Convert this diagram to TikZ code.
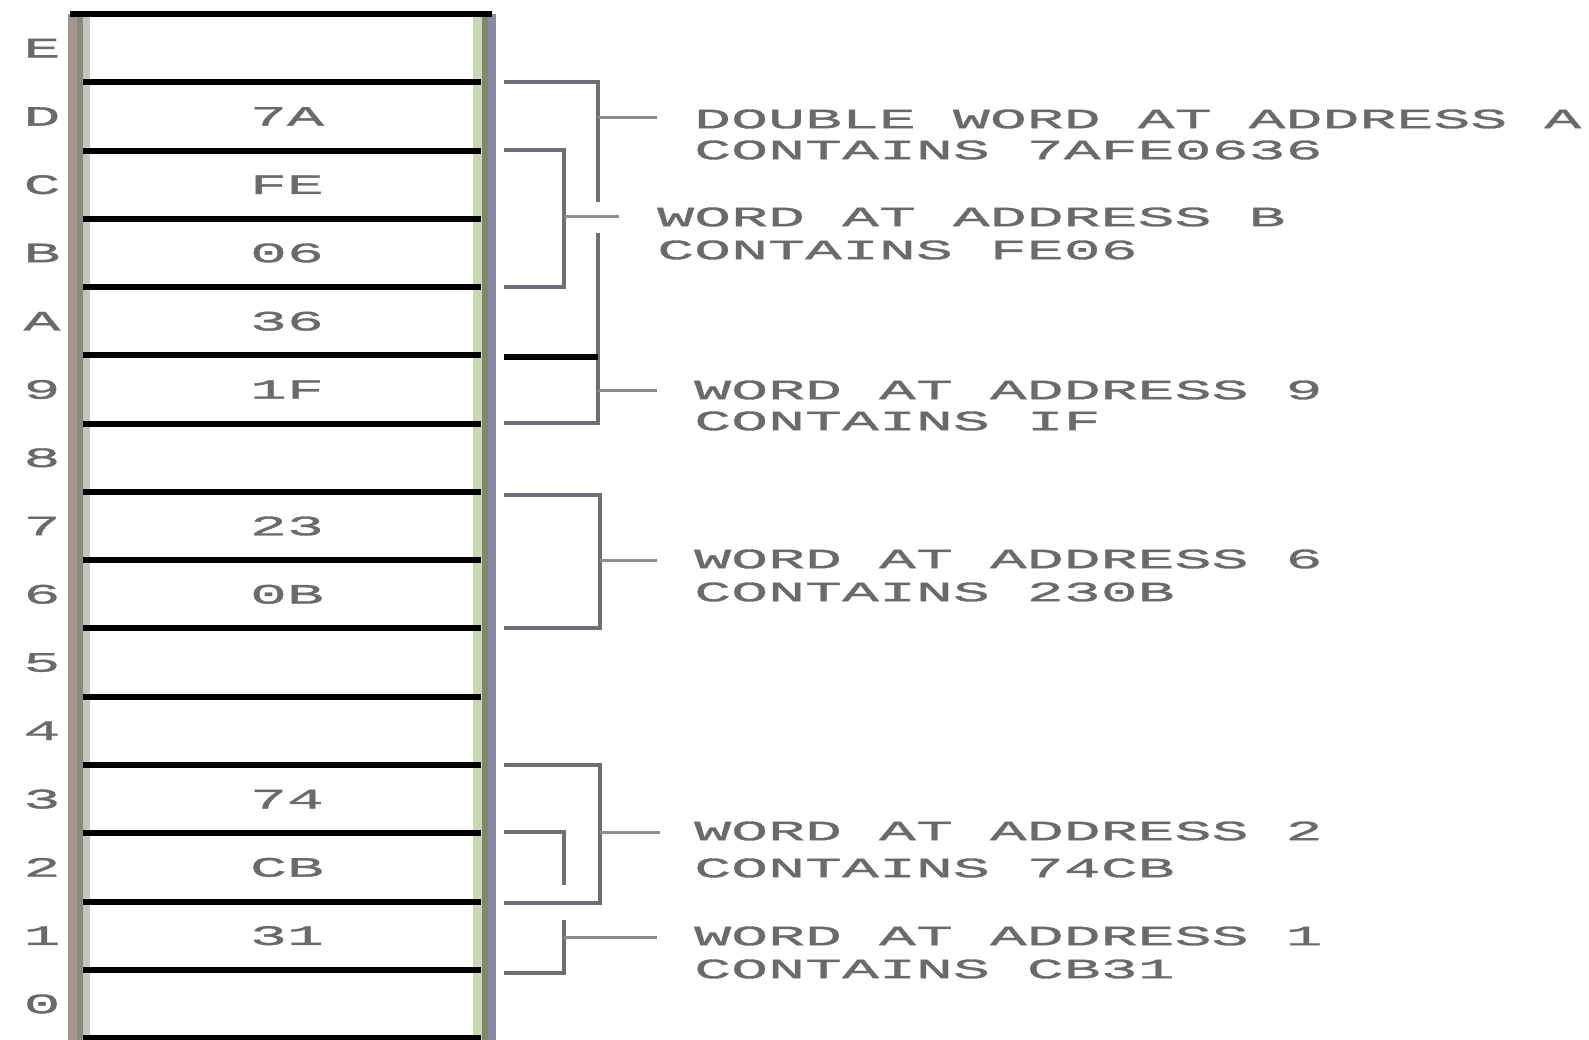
\documentclass[tikz,border=0pt]{standalone}
\usepackage{fontspec}
\newfontfamily\monow[FakeStretch=2.2,FakeBold=1.2]{Liberation Mono}
\newcommand\lblfont{\monow\fontsize{28}{30}\selectfont}
\definecolor{txtgray}{HTML}{6A6A6A}
\definecolor{brk}{HTML}{6E6E76}
\definecolor{stemc}{HTML}{8C8C8C}
\definecolor{lbA}{HTML}{A39691}
\definecolor{lbB}{HTML}{8A8A80}
\definecolor{lbC}{HTML}{C2C6BE}
\definecolor{rbA}{HTML}{CBD6B2}
\definecolor{rbB}{HTML}{7C8A6C}
\definecolor{rbC}{HTML}{8A8AA2}
\tikzset{
  txt/.style={inner sep=0pt, font=\lblfont, text=txtgray},
  lbl/.style={txt, anchor=west},
  cellline/.style={line width=6pt, black},
  brack/.style={line width=3.5pt, brk},
  stem/.style={line width=3pt, stemc},
}
\begin{document}
\begin{tikzpicture}[x=1pt,y=-1pt]
\useasboundingbox (0,0) rectangle (1589,1040);
\fill[white] (0,0) rectangle (1589,1040);
% column borders
\fill[lbA] (68,14) rectangle (77,1040);
\fill[lbB] (77,14) rectangle (83,1040);
\fill[lbC] (83,14) rectangle (90,1040);
\fill[rbA] (473,14) rectangle (482,1040);
\fill[rbB] (482,14) rectangle (488,1040);
\fill[rbC] (488,14) rectangle (496,1040);
% top line
\draw[cellline] (70,14) -- (492,14);
% cell lines
\foreach \k in {1,...,15}{
  \draw[cellline] (83,{14+68.27*\k}) -- (481,{14+68.27*\k});
}
% cells
\foreach \a/\v [count=\i from 0] in {E/,D/7A,C/FE,B/06,A/36,9/1F,8/,7/23,6/0B,5/,4/,3/74,2/CB,1/31,0/}{
  \pgfmathsetmacro\yc{14+68.27*(\i+0.5)}
  \node[txt] (addr\a) at (42,\yc) {\a};
  \node[txt] (val\a) at (287,\yc) {\v};
}
% labels
\node[lbl] (dwA1) at (694,119) {DOUBLE WORD AT ADDRESS A};
\node[lbl] (dwA2) at (694,150) {CONTAINS 7AFE0636};
\node[lbl] (wB1) at (657,217) {WORD AT ADDRESS B};
\node[lbl] (wB2) at (657,250) {CONTAINS FE06};
\node[lbl] (w91) at (694,390) {WORD AT ADDRESS 9};
\node[lbl] (w92) at (694,421) {CONTAINS IF};
\node[lbl] (w61) at (694,559) {WORD AT ADDRESS 6};
\node[lbl] (w62) at (694,592) {CONTAINS 230B};
\node[lbl] (w21) at (694,831) {WORD AT ADDRESS 2};
\node[lbl] (w22) at (694,868) {CONTAINS 74CB};
\node[lbl] (w11) at (694,936) {WORD AT ADDRESS 1};
\node[lbl] (w12) at (694,969) {CONTAINS CB31};
% bracket coordinates
\coordinate (dAt) at (598,118);
\coordinate (bBt) at (564,217);
\coordinate (b9t) at (598,390);
\coordinate (b6t) at (600,560);
\coordinate (b2t) at (600,832);
\coordinate (b1t) at (564,937);
% double word at A
\draw[brack] (504,82) -- (598,82) -- (598,202);
\draw[brack] (598,233) -- (598,423) -- (504,423);
\draw[line width=6pt, black] (504,357) -- (598,357);
\draw[stem] (dAt) -- (657,118);
% word at B
\draw[brack] (504,150) -- (564,150) -- (564,287) -- (504,287);
\draw[stem] (bBt) -- (619,217);
% word at 9
\draw[stem] (b9t) -- (657,390);
% word at 6
\draw[brack] (504,495) -- (600,495) -- (600,628) -- (504,628);
\draw[stem] (b6t) -- (657,560);
% word at 2
\draw[brack] (504,765) -- (600,765) -- (600,903) -- (504,903);
\draw[brack] (504,832) -- (564,832) -- (564,885);
\draw[stem] (b2t) -- (660,832);
% word at 1
\draw[brack] (564,920) -- (564,973) -- (504,973);
\draw[stem] (b1t) -- (657,937);
\end{tikzpicture}
\end{document}
